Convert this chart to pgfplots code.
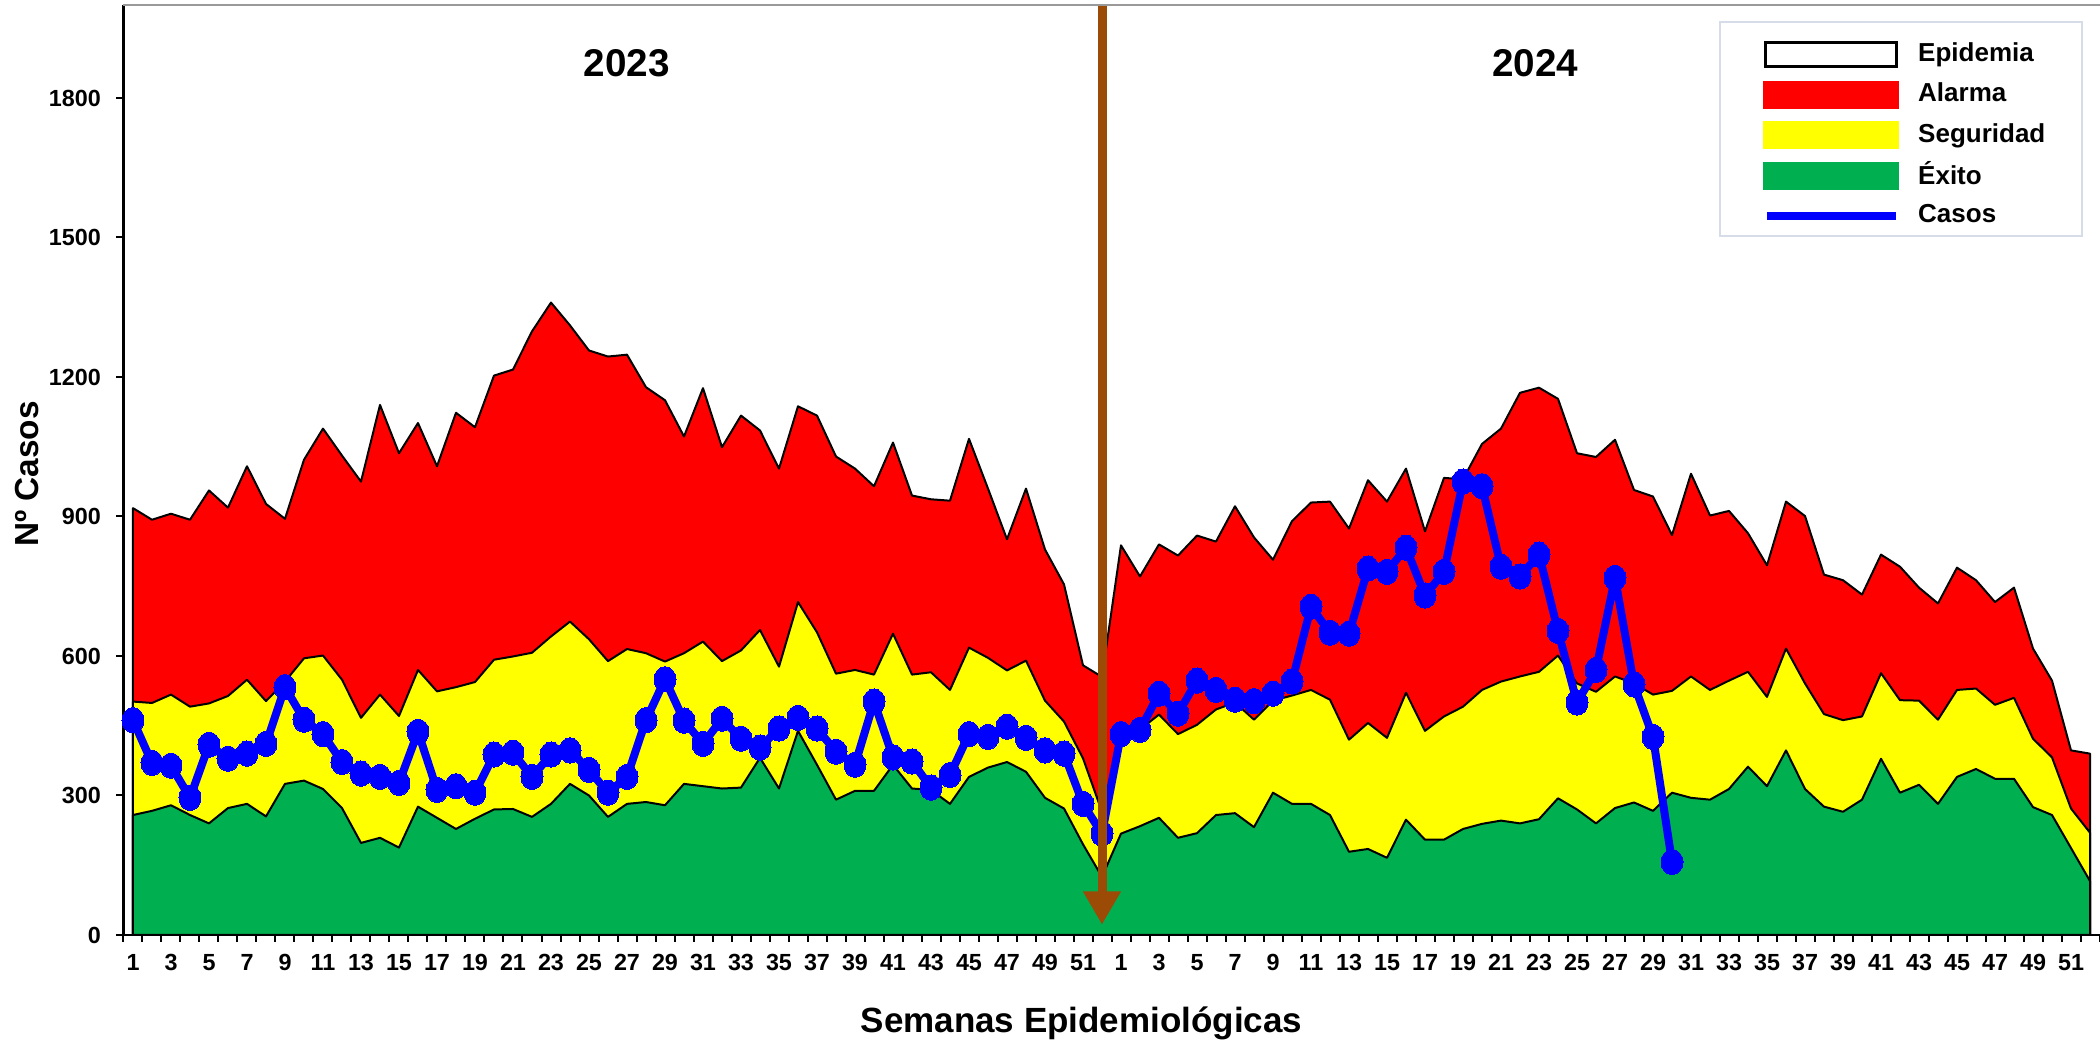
\documentclass[border=0pt]{standalone}
\usepackage{fontspec}
\setmainfont{Liberation Sans}
\usepackage{pgfplots}
\pgfplotsset{compat=1.18}
\usepackage{pgfplotstable}
\usetikzlibrary{arrows.meta}
\definecolor{cred}{RGB}{255,0,0}
\definecolor{cyel}{RGB}{255,255,0}
\definecolor{cgreen}{RGB}{0,176,80}
\definecolor{cblue}{RGB}{0,0,255}
\definecolor{cbrown}{RGB}{155,75,5}
\definecolor{legborder}{RGB}{214,220,232}
\newcommand\tl{\bfseries\fontsize{7}{8}\selectfont}

% i = week index (1-52: 2023, 53-104: 2024)
\pgfplotstableread{
i epi ala seg
1 918 502 258
2 893 499 267
3 906 517 279
4 893 491 258
5 956 498 240
6 919 514 273
7 1008 549 282
8 927 503 255
9 895 545 325
10 1022 595 332
11 1089 601 314
12 1031 549 273
13 975 467 198
14 1140 517 209
15 1036 471 188
16 1101 570 276
17 1008 524 252
18 1123 533 228
19 1092 544 250
20 1203 592 270
21 1216 599 271
22 1298 607 254
23 1360 642 282
24 1311 674 325
25 1257 636 300
26 1244 589 254
27 1248 615 282
28 1178 606 286
29 1150 588 279
30 1072 606 325
31 1176 631 320
32 1049 589 315
33 1117 612 317
34 1085 656 381
35 1003 577 315
36 1137 716 439
37 1117 651 366
38 1029 562 291
39 1003 570 310
40 965 560 310
41 1059 648 366
42 945 560 315
43 937 565 312
44 934 527 282
45 1067 618 340
46 960 596 360
47 851 569 372
48 960 590 351
49 829 504 295
50 754 459 272
51 580 380 195
52 555 265 125
53 838 425 218
54 771 442 234
55 840 474 252
56 816 432 209
57 859 452 219
58 846 485 258
59 922 500 262
60 855 463 232
61 807 504 306
62 890 515 282
63 930 527 282
64 932 506 258
65 874 420 179
66 978 456 185
67 932 424 166
68 1003 521 248
69 868 439 205
70 983 470 205
71 980 491 228
72 1056 527 239
73 1089 545 246
74 1166 556 240
75 1177 566 249
76 1153 601 294
77 1036 541 270
78 1028 523 240
79 1065 556 273
80 957 541 285
81 943 517 267
82 860 525 306
83 992 556 295
84 902 527 291
85 912 547 314
86 864 566 362
87 795 512 320
88 932 616 397
89 901 541 314
90 775 475 276
91 763 462 265
92 732 470 291
93 818 563 379
94 792 505 306
95 747 504 323
96 713 463 282
97 790 527 340
98 763 530 357
99 716 495 336
100 747 510 336
101 616 422 275
102 547 382 258
103 397 272 187
104 390 220 116
}\bands

\pgfplotstableread{
i cas
1 462
2 370
3 364
4 295
5 409
6 379
7 390
8 411
9 533
10 463
11 432
12 372
13 347
14 340
15 327
16 437
17 312
18 320
19 306
20 388
21 392
22 340
23 388
24 397
25 355
26 306
27 340
28 462
29 550
30 461
31 411
32 465
33 422
34 403
35 444
36 467
37 444
38 394
39 366
40 502
41 382
42 373
43 317
44 344
45 432
46 426
47 448
48 424
49 397
50 390
51 282
52 218
53 432
54 441
55 519
56 476
57 547
58 527
59 506
60 503
61 519
62 545
63 706
64 650
65 648
66 788
67 781
68 833
69 730
70 781
71 975
72 965
73 792
74 771
75 818
76 654
77 500
78 570
79 768
80 539
81 426
82 157
}\casos

\begin{document}
\begin{tikzpicture}
\begin{axis}[
  scale only axis, width=592.8pt, height=279pt,
  xmin=0.5, xmax=104.5, ymin=0, ymax=2000,
  clip mode=individual,
  axis x line*=bottom, axis y line*=left,
  axis line style={black, line width=0.8pt},
  tick align=outside,
  major tick length=2.1pt,
  tick style={black, line width=0.6pt},
  xtick={0.5,1.5,...,104.5},
  xticklabels={},
  extra x ticks={1,3,5,7,9,11,13,15,17,19,21,23,25,27,29,31,33,35,37,39,41,43,45,47,49,51,53,55,57,59,61,63,65,67,69,71,73,75,77,79,81,83,85,87,89,91,93,95,97,99,101,103},
  extra x tick labels={1,3,5,7,9,11,13,15,17,19,21,23,25,27,29,31,33,35,37,39,41,43,45,47,49,51,1,3,5,7,9,11,13,15,17,19,21,23,25,27,29,31,33,35,37,39,41,43,45,47,49,51},
  extra x tick style={major tick length=0pt},
  xticklabel style={font=\tl, anchor=base, inner sep=0pt, yshift=-10.8pt},
  ytick={0,300,...,1800},
  yticklabel style={font=\tl, anchor=east, inner sep=0pt, xshift=-4.5pt},
  /pgf/number format/1000 sep={},
  /pgf/number format/assume math mode=true,
  legend cell align=left,
  legend style={at={(0.99165,0.9828)}, anchor=north east, draw=legborder, line width=0.6pt, fill=white,
    font=\bfseries\fontsize{7.8}{9}\selectfont, inner xsep=11pt, inner ysep=2.5pt, row sep=2.1pt,
    nodes={inner sep=0pt},
    /tikz/every odd column/.append style={column sep=5.4pt}},
]
\addplot[draw=black, line width=0.6pt, line join=round, fill=cred, forget plot] table[x=i,y=epi]{\bands} \closedcycle;
\addplot[draw=black, line width=0.6pt, line join=round, fill=cyel, forget plot] table[x=i,y=ala]{\bands} \closedcycle;
\addplot[draw=black, line width=0.6pt, line join=round, fill=cgreen, forget plot] table[x=i,y=seg]{\bands} \closedcycle;
\addplot[cblue, line width=2.4pt, line join=round, mark=*, mark size=3.3pt,
  mark options={fill=cblue, draw=cblue, line width=0pt, yscale=1.15}, forget plot] table[x=i,y=cas]{\casos};
\addplot[cbrown, line width=2.7pt, -{Triangle[width=10.7pt,length=10pt]}, forget plot] coordinates {(52,2000) (52,22)};

\addlegendimage{legend image code/.code={\path[draw=none,fill=none] (-2.3pt,-5pt) rectangle (40.2pt,7.3pt); \draw[black, line width=0.9pt, fill=white] (0.45pt,-3.6pt) rectangle (39.75pt,3.6pt);}}
\addlegendentry{Epidemia}
\addlegendimage{legend image code/.code={\path[draw=none,fill=none] (-2.3pt,-5pt) rectangle (40.2pt,5pt); \fill[cred] (0pt,-3.9pt) rectangle (40.2pt,3.9pt);}}
\addlegendentry{Alarma}
\addlegendimage{legend image code/.code={\path[draw=none,fill=none] (-2.3pt,-5pt) rectangle (40.2pt,5pt); \fill[cyel] (0pt,-3.9pt) rectangle (40.2pt,3.9pt);}}
\addlegendentry{Seguridad}
\addlegendimage{legend image code/.code={\path[draw=none,fill=none] (-2.3pt,-5pt) rectangle (40.2pt,5pt); \fill[cgreen] (0pt,-3.9pt) rectangle (40.2pt,3.9pt);}}
\addlegendentry{Éxito}
\addlegendimage{legend image code/.code={\path[draw=none,fill=none] (-2.3pt,-2.2pt) rectangle (40.2pt,5pt); \draw[cblue, line width=2.4pt] (0.9pt,0pt) -- (39.6pt,0pt);}}
\addlegendentry{Casos}

\draw[gray!80, line width=0.6pt] (rel axis cs:0,1) -- (rel axis cs:1,1);
\node[font=\bfseries\fontsize{11.6}{13}\selectfont] at (axis cs:27,1875) {2023};
\node[font=\bfseries\fontsize{11.6}{13}\selectfont] at (axis cs:74.8,1875) {2024};
\node[font=\bfseries\fontsize{10}{12}\selectfont, rotate=90] at ([xshift=-28.95pt,yshift=-1.2pt]rel axis cs:0,0.5) {Nº Casos};
\node[font=\bfseries\fontsize{10.5}{12}\selectfont, anchor=base] at ([yshift=-29.4pt]rel axis cs:0.4848,0) {Semanas Epidemiológicas};
\coordinate (sw) at (rel axis cs:0,0);
\coordinate (ne) at (rel axis cs:1,1);
\end{axis}
\pgfresetboundingbox
\path ([shift={(-37.05pt,-33pt)}]sw) rectangle ([shift={(0.15pt,1.5pt)}]ne);
\end{tikzpicture}
\end{document}
